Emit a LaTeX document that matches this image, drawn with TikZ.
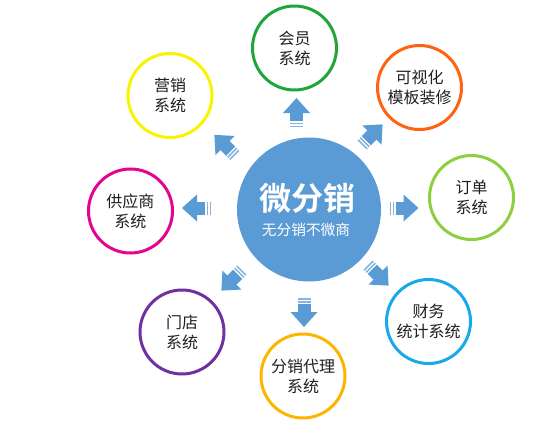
\documentclass[tikz,border=0pt]{standalone}
\usepackage{fontspec}
\newfontfamily\cjk{Noto Sans CJK SC}[BoldFont={Noto Sans CJK SC Bold}]
\definecolor{hubblue}{HTML}{5B9BD5}
\definecolor{cYellow}{HTML}{F8F400}
\definecolor{cGreen}{HTML}{1FA63A}
\definecolor{cOrange}{HTML}{FF6210}
\definecolor{cLime}{HTML}{8DCF3F}
\definecolor{cSky}{HTML}{17A9EA}
\definecolor{cAmber}{HTML}{FFB400}
\definecolor{cPurple}{HTML}{7030A0}
\definecolor{cMagenta}{HTML}{E3058F}
\definecolor{txt}{HTML}{1E1E1E}
\tikzset{
  ring/.style={circle, draw=#1, line width=3pt, minimum size=84pt, inner sep=0pt,
    align=center, text=txt, font=\cjk\fontsize{16}{20}\selectfont},
  blockarrow/.pic={
    \fill[hubblue] (0,-13.5) -- (15,0) -- (0,13.5) -- cycle;
    \fill[hubblue] (-8,-6.5) rectangle (0.5,6.5);
    \fill[hubblue!75] (-11,-6.5) rectangle (-9.5,6.5);
    \fill[hubblue!75] (-14,-6.5) rectangle (-12.5,6.5);
  }
}
\begin{document}
\begin{tikzpicture}[x=1pt,y=-1pt]
\useasboundingbox (0,0) rectangle (550,426);
% hub
\node[circle, fill=hubblue, minimum size=144pt, inner sep=0pt] (hub) at (309,209.5) {};
\node[text=white, font=\cjk\bfseries\fontsize{32}{34}\selectfont, inner sep=0pt] (title) at (307,198) {微分销};
\node[text=white, font=\cjk\fontsize{14.7}{16}\selectfont, inner sep=0pt] (sub) at (306,230) {无分销不微商};
% outer rings
\node[ring=cGreen] (hy) at (294.5,48) {会员\\系统};
\node[ring=cOrange] (ks) at (419.5,87.5) {可视化\\模板装修};
\node[ring=cLime] (dd) at (471.5,197.5) {订单\\系统};
\node[ring=cSky] (cw) at (428.5,321.5) {财务\\统计系统};
\node[ring=cAmber] (fx) at (303,376) {分销代理\\系统};
\node[ring=cPurple] (md) at (182,332) {门店\\系统};
\node[ring=cMagenta] (gy) at (130.5,211) {供应商\\系统};
\node[ring=cYellow] (yx) at (170,95.5) {营销\\系统};
% arrows
\pic[rotate=90] at (296.5,113) {blockarrow};
\pic[rotate=45] at (372,135) {blockarrow};
\pic[rotate=0] at (403.5,208) {blockarrow};
\pic[rotate=-45] at (378,275) {blockarrow};
\pic[rotate=-90] at (304,312) {blockarrow};
\pic[rotate=-135] at (232,280) {blockarrow};
\pic[rotate=180] at (197,208) {blockarrow};
\pic[rotate=135] at (225,145.5) {blockarrow};
\end{tikzpicture}
\end{document}
